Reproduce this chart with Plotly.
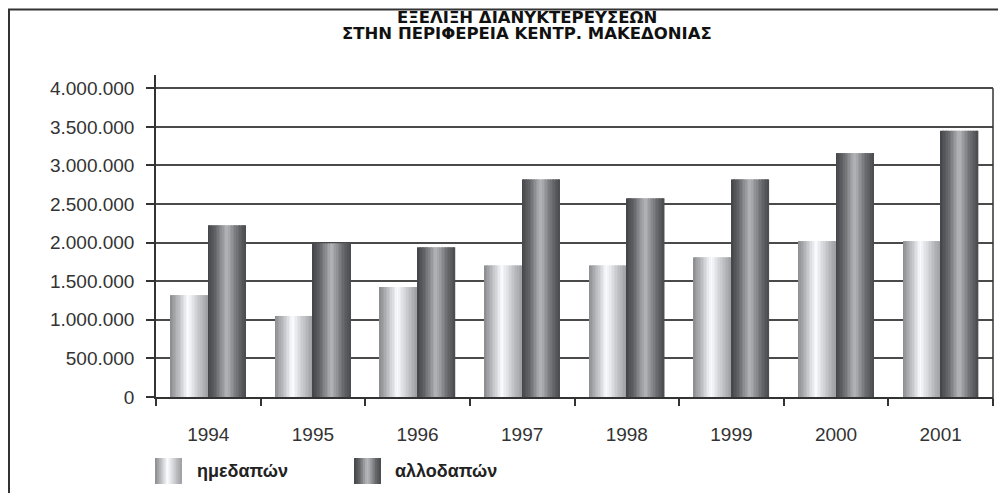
import plotly.graph_objects as go

# ---------------- data ----------------
years = ["1994", "1995", "1996", "1997", "1998", "1999", "2000", "2001"]
domestic = [1320000, 1050000, 1425000, 1705000, 1705000, 1810000, 2020000, 2020000]
foreign = [2225000, 1990000, 1940000, 2820000, 2575000, 2820000, 3160000, 3450000]
series_names = ["ημεδαπών", "αλλοδαπών"]
title_lines = ["ΕΞΕΛΙΞΗ ΔΙΑΝΥΚΤΕΡΕΥΣΕΩΝ", "ΣΤΗΝ ΠΕΡΙΦΕΡΕΙΑ ΚΕΝΤΡ. ΜΑΚΕΔΟΝΙΑΣ"]
y_max = 4000000
y_step = 500000

# ---------------- styling ----------------
W, H = 1006, 493
OFF = 8  # page body margin offset
# desired plot box in page pixels
P_LEFT, P_RIGHT, P_TOP, P_BOTTOM = 156, 993, 75, 397
ML = P_LEFT - OFF
MR = W - (P_RIGHT - OFF)
MT = P_TOP - OFF
MB = H - (P_BOTTOM - OFF)
PW, PH = W - ML - MR, H - MT - MB
Y_TOP = y_max * 1.043
BAR_W = 0.36
N_SLICES = 24
INK = "#333333"
FONT = "Liberation Sans"

light_stops = [(0, 138), (0.22, 188), (0.47, 252), (0.72, 205), (1, 158)]
dark_stops = [(0, 68), (0.2, 100), (0.5, 182), (0.8, 108), (1, 74)]


def shade(stops, t):
    for (t0, v0), (t1, v1) in zip(stops[:-1], stops[1:]):
        if t0 <= t <= t1:
            v = v0 + (v1 - v0) * (t - t0) / (t1 - t0)
            break
    v = int(round(v))
    return "rgb({},{},{})".format(max(v - 1, 0), v, min(v + 3, 255))


def px_x(x):
    """page x pixel -> paper fraction"""
    return (x - OFF - ML) / PW


def px_y(y):
    """page y pixel -> paper fraction"""
    return (H - MB - (y - OFF)) / PH


fig = go.Figure()

for k, (vals, stops) in enumerate([(domestic, light_stops), (foreign, dark_stops)]):
    base = -BAR_W + k * BAR_W
    sw = BAR_W / N_SLICES
    for i in range(N_SLICES):
        t = (i + 0.5) / N_SLICES
        fig.add_trace(go.Bar(
            x=years, y=vals,
            offset=base + i * sw,
            width=sw + (0.004 if i < N_SLICES - 1 else 0),
            marker=dict(color=shade(stops, t), line=dict(width=0)),
            showlegend=False,
            hoverinfo="skip" if i != N_SLICES // 2 else "x+y",
            name=series_names[k],
        ))

shapes = []
# outer frame
shapes.append(dict(type="line", xref="paper", yref="paper",
                   x0=px_x(9), x1=px_x(9), y0=px_y(9), y1=px_y(H + 20),
                   line=dict(color=INK, width=2)))
shapes.append(dict(type="line", xref="paper", yref="paper",
                   x0=px_x(8), x1=px_x(W + 20), y0=px_y(9.5), y1=px_y(9.5),
                   line=dict(color=INK, width=2)))
# right border of plot area
shapes.append(dict(type="line", xref="paper", yref="paper",
                   x0=1, x1=1, y0=px_y(404), y1=y_max / Y_TOP,
                   line=dict(color=INK, width=1.5)))

annotations = []
# title
for line_text, cy in zip(title_lines, [18, 33.5]):
    annotations.append(dict(text="<b>" + line_text + "</b>", xref="paper", yref="paper",
                            x=px_x(527), y=px_y(cy), xanchor="center", yanchor="middle",
                            showarrow=False,
                            font=dict(family="DejaVu Sans", size=16.5, color="#111111")))

# legend swatches
for k, (stops, sx, tx) in enumerate([(light_stops, 155, 195), (dark_stops, 354, 393)]):
    n = 14
    sw = 26.7 / n
    for i in range(n):
        shapes.append(dict(type="rect", xref="paper", yref="paper",
                           x0=px_x(sx + i * sw), x1=px_x(sx + (i + 1) * sw + 0.3),
                           y0=px_y(484), y1=px_y(458),
                           fillcolor=shade(stops, (i + 0.5) / n), line=dict(width=0)))
    annotations.append(dict(text="<b>" + series_names[k] + "</b>", xref="paper", yref="paper",
                            x=px_x(tx), y=px_y(471), xanchor="left", yanchor="middle",
                            showarrow=False, font=dict(family=FONT, size=18, color="#222222")))

fig.update_layout(
    width=W, height=H,
    margin=dict(l=ML, r=MR, t=MT, b=MB, pad=0, autoexpand=False),
    paper_bgcolor="white", plot_bgcolor="white",
    barmode="overlay",
    separators=",.",
    showlegend=False,
    shapes=shapes,
    annotations=annotations,
    font=dict(family=FONT, color=INK),
)

fig.update_xaxes(type="category", tickson="boundaries", ticks="outside", ticklen=7,
                 tickcolor=INK, tickwidth=1.5, showline=True, linecolor=INK, linewidth=1.5,
                 showgrid=False, tickfont=dict(family=FONT, size=19, color=INK),
                 ticklabelstandoff=19, automargin=False)
fig.update_yaxes(range=[0, Y_TOP], tick0=0, dtick=y_step, tickformat=",.0f",
                 ticks="outside", ticklen=8, tickcolor=INK, tickwidth=1.5,
                 showline=True, linecolor=INK, linewidth=1.5,
                 showgrid=True, gridcolor="#4a4a4a", gridwidth=1.6,
                 zeroline=False, tickfont=dict(family=FONT, size=19, color=INK),
                 ticklabelstandoff=8, automargin=False)

fig.write_html("out.html")
